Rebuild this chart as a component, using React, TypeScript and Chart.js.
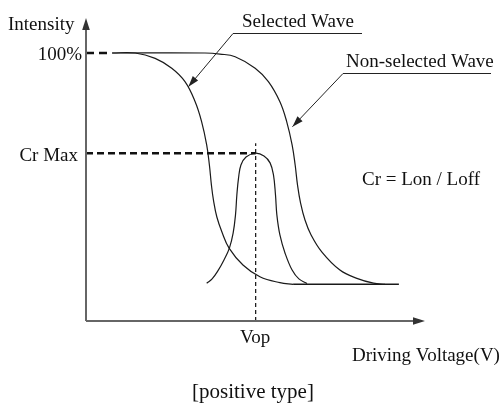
import React, { useEffect, useRef } from "react";
import { Chart, registerables } from "chart.js";

Chart.register(...registerables);

// Driving voltage (0–100 arbitrary units) vs intensity (%)
const selectedX = [7.7, 14.5, 20.4, 25.3, 29.2, 32.2, 34.1, 35.6, 36.4, 37.0, 37.6, 38.6, 40.1, 42.2, 46.3, 51.3, 57.2, 61.1];
const selectedY = [100, 100, 98.0, 94.3, 89.3, 81.8, 74.4, 65.7, 58.2, 50.7, 45.1, 38.8, 33.2, 27.2, 20.9, 16.5, 14.3, 13.7];

const nonSelectedX = [7.7, 35.1, 39.5, 44.0, 49.9, 53.8, 57.2, 59.2, 60.8, 61.7, 62.4, 63.3, 64.6, 66.4, 69.6, 74.9, 79.9, 84.8, 88.2];
const nonSelectedY = [100, 100, 99.6, 98.6, 94.3, 89.3, 81.8, 74.4, 65.7, 58.2, 50.7, 44.0, 37.7, 32.1, 25.7, 19.0, 15.9, 14.1, 13.7];

const contrastX = [35.6, 37.2, 38.9, 40.7, 42.3, 43.4, 44.1, 44.5, 45.0, 45.7, 47.2, 49.9, 52.5, 54.3, 55.3, 55.9, 56.3, 57.2, 58.7, 60.8, 62.8, 65.2];
const contrastY = [14.1, 15.7, 18.7, 22.8, 27.2, 32.8, 39.6, 47.0, 53.4, 58.2, 61.2, 62.6, 61.6, 59.0, 54.5, 47.0, 39.6, 32.1, 25.4, 19.0, 15.7, 14.0];

const offLevelX = [61.1, 92.3];
const offLevel = 13.7;

const fullLevel = 100;
const fullGuideEnd = 7.1;
const crMax = 62.6;
const vop = 50.05;
const vopGuideTop = 66.3;

const selectedArrowTip = { x: 30.2, y: 87.4 };
const nonSelectedArrowTip = { x: 60.9, y: 72.5 };

const pts = (xs: number[], ys: number[]) => xs.map((x, i) => ({ x, y: ys[i] }));

const FONT = '"Liberation Serif", "Times New Roman", serif';

function arrowHead(ctx: CanvasRenderingContext2D, fx: number, fy: number, tx: number, ty: number, len: number, half: number) {
  const a = Math.atan2(ty - fy, tx - fx);
  const bx = tx - Math.cos(a) * len;
  const by = ty - Math.sin(a) * len;
  ctx.beginPath();
  ctx.moveTo(tx, ty);
  ctx.lineTo(bx + Math.sin(a) * half, by - Math.cos(a) * half);
  ctx.lineTo(bx - Math.sin(a) * half, by + Math.cos(a) * half);
  ctx.closePath();
  ctx.fill();
}

const annotations = {
  id: "annotations",
  afterDraw(chart: any) {
    const { ctx, chartArea, scales } = chart;
    const xs = scales.x;
    const ys = scales.y;
    ctx.save();
    // axes
    ctx.strokeStyle = "#666";
    ctx.fillStyle = "#333";
    ctx.lineWidth = 2;
    ctx.setLineDash([]);
    ctx.beginPath();
    ctx.moveTo(chartArea.left, chartArea.bottom);
    ctx.lineTo(chartArea.left, chartArea.top + 8);
    ctx.moveTo(chartArea.left, chartArea.bottom);
    ctx.lineTo(chartArea.right - 8, chartArea.bottom);
    ctx.stroke();
    arrowHead(ctx, chartArea.left, chartArea.bottom, chartArea.left, chartArea.top, 12, 3.8);
    arrowHead(ctx, chartArea.left, chartArea.bottom, chartArea.right, chartArea.bottom, 12, 3.8);

    // annotation leaders
    ctx.strokeStyle = "#222";
    ctx.fillStyle = "#222";
    ctx.lineWidth = 1;
    const st = { x: xs.getPixelForValue(selectedArrowTip.x), y: ys.getPixelForValue(selectedArrowTip.y) };
    ctx.beginPath();
    ctx.moveTo(362, 33.5);
    ctx.lineTo(233, 33.5);
    ctx.lineTo(st.x, st.y);
    ctx.stroke();
    arrowHead(ctx, 233, 33.5, st.x, st.y, 11, 3.5);

    const nt = { x: xs.getPixelForValue(nonSelectedArrowTip.x), y: ys.getPixelForValue(nonSelectedArrowTip.y) };
    ctx.beginPath();
    ctx.moveTo(491, 73.5);
    ctx.lineTo(343, 73.5);
    ctx.lineTo(nt.x, nt.y);
    ctx.stroke();
    arrowHead(ctx, 343, 73.5, nt.x, nt.y, 11, 3.5);

    // texts
    ctx.fillStyle = "#111";
    ctx.textBaseline = "alphabetic";
    ctx.font = `19px ${FONT}`;
    ctx.textAlign = "left";
    ctx.fillText("Intensity", 8, 30);
    ctx.textAlign = "right";
    ctx.fillText("100%", 82, 60);
    ctx.fillText("Cr Max", 78, 161);
    ctx.textAlign = "left";
    ctx.fillText("Selected Wave", 242, 27);
    ctx.fillText("Non-selected Wave", 346, 67);
    ctx.fillText("Cr = Lon / Loff", 362, 185);
    ctx.fillText("Vop", 240, 343);
    ctx.fillText("Driving Voltage(V)", 352, 361);
    ctx.font = `21px ${FONT}`;
    ctx.fillText("[positive type]", 192, 398);
    ctx.restore();
  },
};

export default function App() {
  const ref = useRef<HTMLCanvasElement>(null);
  useEffect(() => {
    const canvas = ref.current;
    if (!canvas) return;
    const curve = (data: any[]) => ({
      data,
      borderColor: "#1a1a1a",
      borderWidth: 1.2,
      pointRadius: 0,
      tension: 0.4,
      fill: false,
      clip: false,
    });
    const guide = (data: any[], width: number, dash: number[]) => ({
      data,
      borderColor: "#111",
      borderWidth: width,
      borderDash: dash,
      pointRadius: 0,
      tension: 0,
      fill: false,
      clip: false,
    });
    const chart = new Chart(canvas, {
      type: "line",
      data: {
        datasets: [
          guide([{ x: 0, y: fullLevel }, { x: fullGuideEnd, y: fullLevel }], 2.5, [8, 5]),
          guide([{ x: 0, y: crMax }, { x: vop, y: crMax }], 2.5, [7, 4]),
          guide([{ x: vop, y: 0 }, { x: vop, y: vopGuideTop }], 1.2, [4, 3]),
          curve(pts(selectedX, selectedY)),
          curve(pts(nonSelectedX, nonSelectedY)),
          curve(pts(contrastX, contrastY)),
          { ...curve(pts(offLevelX, offLevelX.map(() => offLevel))), borderWidth: 1.5, tension: 0 },
        ] as any,
      },
      options: {
        responsive: false,
        animation: false,
        devicePixelRatio: 1,
        layout: { padding: { left: 86, right: 77, top: 18, bottom: 85 } },
        scales: {
          x: { type: "linear", min: 0, max: 100, display: false },
          y: { type: "linear", min: 0, max: 113.06, display: false },
        },
        plugins: { legend: { display: false }, tooltip: { enabled: false } },
        events: [],
      } as any,
      plugins: [annotations],
    });
    return () => chart.destroy();
  }, []);
  return (
    <div style={{ position: "absolute", left: 0, top: 0, width: 502, height: 406, background: "#fff" }}>
      <canvas ref={ref} width={502} height={406} style={{ display: "block" }} />
    </div>
  );
}
